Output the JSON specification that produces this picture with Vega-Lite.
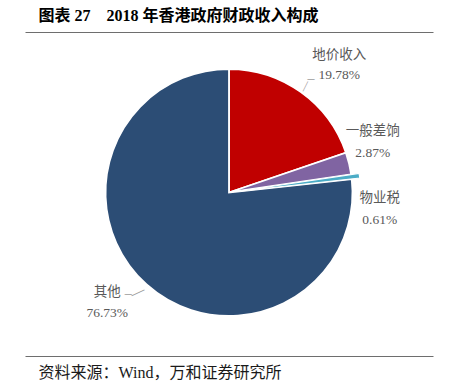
{
  "$schema": "https://vega.github.io/schema/vega-lite/v6.json",
  "width": 408,
  "height": 324,
  "autosize": "none",
  "padding": {"left": 25, "top": 32, "right": 16, "bottom": 28},
  "config": {"view": {"stroke": null}},
  "data": {"values": [
    {"category": "地价收入", "value": 19.78, "rank": 1, "label": "地价收入\n19.78%"},
    {"category": "一般差饷", "value": 2.87, "rank": 2, "label": "一般差饷\n2.87%"},
    {"category": "物业税", "value": 0.61, "rank": 3, "label": "物业税\n0.61%"},
    {"category": "其他", "value": 76.73, "rank": 4, "label": "其他\n76.73%"}
  ]},
  "layer": [
    {
      "mark": {"type": "arc", "outerRadius": 123.5, "stroke": "white", "strokeWidth": 1.8, "yOffset": -1.5},
      "encoding": {
        "theta": {"field": "value", "type": "quantitative", "stack": true},
        "order": {"field": "rank", "type": "quantitative"},
        "color": {"field": "category", "type": "nominal", "legend": null,
          "scale": {"domain": ["地价收入", "一般差饷", "物业税", "其他"], "range": ["#C00000", "#8064A2", "#4BACC6", "#2C4D75"]}},
        "opacity": {"condition": {"test": "datum.category === '物业税'", "value": 0}, "value": 1}
      }
    },
    {
      "mark": {"type": "arc", "outerRadius": 123.5, "stroke": "white", "strokeWidth": 1.2, "xOffset": 8, "yOffset": -2.5},
      "encoding": {
        "theta": {"field": "value", "type": "quantitative", "stack": true},
        "order": {"field": "rank", "type": "quantitative"},
        "color": {"field": "category", "type": "nominal", "legend": null},
        "opacity": {"condition": {"test": "datum.category === '物业税'", "value": 1}, "value": 0}
      }
    },
    {
      "mark": {"type": "text", "radius": 133, "dx": -1, "dy": -1, "angle": -63.4, "align": "center", "baseline": "middle", "font": "Liberation Serif", "fontSize": 11, "color": "#9a9a9a"},
      "encoding": {
        "theta": {"field": "value", "type": "quantitative", "stack": true},
        "order": {"field": "rank", "type": "quantitative"},
        "text": {"condition": {"test": "datum.category === '地价收入'", "value": "—"}, "value": ""}
      }
    },
    {
      "mark": {"type": "text", "radius": 141, "dx": 0, "dy": 0, "align": "center", "baseline": "middle", "font": "Liberation Serif", "fontSize": 14, "color": "#9a9a9a"},
      "encoding": {
        "theta": {"field": "value", "type": "quantitative", "stack": true},
        "order": {"field": "rank", "type": "quantitative"},
        "text": {"condition": {"test": "datum.category === '地价收入'", "value": "–"}, "value": ""}
      }
    },
    {
      "mark": {"type": "text", "radius": 133, "dx": -2, "dy": -2, "angle": -24.8, "align": "center", "baseline": "middle", "font": "Liberation Serif", "fontSize": 14, "color": "#9a9a9a"},
      "encoding": {
        "theta": {"field": "value", "type": "quantitative", "stack": true},
        "order": {"field": "rank", "type": "quantitative"},
        "text": {"condition": {"test": "datum.category === '其他'", "value": "—"}, "value": ""}
      }
    },
    {
      "mark": {"type": "text", "radius": 142, "dx": -6, "dy": -5.5, "align": "center", "baseline": "middle", "font": "Liberation Serif", "fontSize": 14, "color": "#9a9a9a"},
      "encoding": {
        "theta": {"field": "value", "type": "quantitative", "stack": true},
        "order": {"field": "rank", "type": "quantitative"},
        "text": {"condition": {"test": "datum.category === '其他'", "value": "–"}, "value": ""}
      }
    },
    {
      "mark": {"type": "text", "radius": 167, "dx": 13, "dy": -3, "align": "center", "baseline": "middle", "lineBreak": "\n", "lineHeight": 20, "font": "Liberation Serif, Noto Sans CJK SC", "fontSize": 13.5, "color": "#595959"},
      "encoding": {
        "theta": {"field": "value", "type": "quantitative", "stack": true},
        "order": {"field": "rank", "type": "quantitative"},
        "text": {"condition": {"test": "datum.category === '地价收入'", "field": "label"}, "value": ""}
      }
    },
    {
      "mark": {"type": "text", "radius": 151, "dx": -3, "dy": -27, "align": "center", "baseline": "middle", "lineBreak": "\n", "lineHeight": 22, "font": "Liberation Serif, Noto Sans CJK SC", "fontSize": 13.5, "color": "#595959"},
      "encoding": {
        "theta": {"field": "value", "type": "quantitative", "stack": true},
        "order": {"field": "rank", "type": "quantitative"},
        "text": {"condition": {"test": "datum.category === '一般差饷'", "field": "label"}, "value": ""}
      }
    },
    {
      "mark": {"type": "text", "radius": 147, "dx": 5, "dy": 23, "align": "center", "baseline": "middle", "lineBreak": "\n", "lineHeight": 22, "font": "Liberation Serif, Noto Sans CJK SC", "fontSize": 13.5, "color": "#595959"},
      "encoding": {
        "theta": {"field": "value", "type": "quantitative", "stack": true},
        "order": {"field": "rank", "type": "quantitative"},
        "text": {"condition": {"test": "datum.category === '物业税'", "field": "label"}, "value": ""}
      }
    },
    {
      "mark": {"type": "text", "radius": 163, "dx": -13, "dy": -23, "align": "center", "baseline": "middle", "lineBreak": "\n", "lineHeight": 21, "font": "Liberation Serif, Noto Sans CJK SC", "fontSize": 13.5, "color": "#595959"},
      "encoding": {
        "theta": {"field": "value", "type": "quantitative", "stack": true},
        "order": {"field": "rank", "type": "quantitative"},
        "text": {"condition": {"test": "datum.category === '其他'", "field": "label"}, "value": ""}
      }
    },
    {
      "mark": {"type": "rule", "opacity": 0},
      "encoding": {
        "x": {"datum": 0, "type": "quantitative", "scale": {"domain": [0, 1]},
          "axis": {"orient": "bottom", "title": "资料来源：Wind，万和证券研究所", "titleAnchor": "start", "titleAlign": "left", "titleX": 13, "titleY": 16, "titleBaseline": "middle", "titleFont": "Liberation Serif, Noto Sans CJK SC", "titleFontSize": 16, "titleFontWeight": "normal", "titleColor": "#1a1a1a", "labels": false, "ticks": false, "grid": false, "domainColor": "#6e6e6e", "domainWidth": 1}}
      }
    },
    {
      "mark": {"type": "rule", "opacity": 0},
      "encoding": {
        "x": {"datum": 0, "type": "quantitative", "scale": {"domain": [0, 1]},
          "axis": {"orient": "top", "title": "图表\u00a027\u00a0\u00a0\u00a0\u00a02018\u00a0年香港政府财政收入构成", "titleAnchor": "start", "titleAlign": "left", "titleX": 13, "titleY": -17, "titleBaseline": "middle", "titleFont": "Liberation Serif, Noto Sans CJK SC", "titleFontSize": 16, "titleFontWeight": "bold", "titleColor": "#000000", "labels": false, "ticks": false, "grid": false, "domainColor": "#6e6e6e", "domainWidth": 1}}
      }
    }
  ],
  "resolve": {"scale": {"x": "independent"}, "axis": {"x": "independent"}}
}
